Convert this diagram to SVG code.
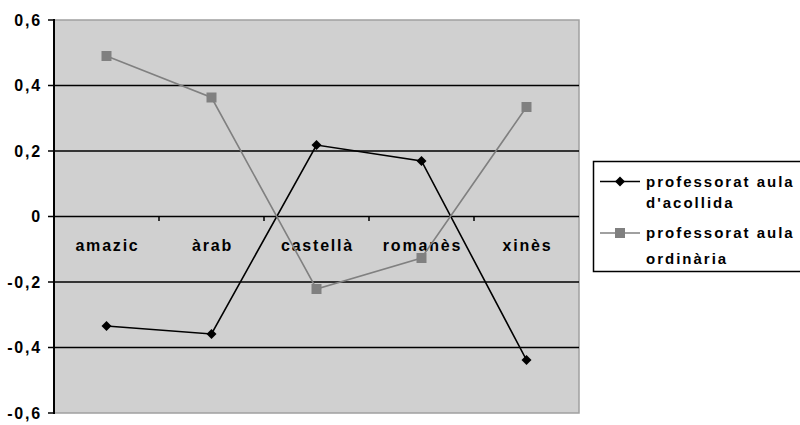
<svg xmlns="http://www.w3.org/2000/svg" width="800" height="425" viewBox="0 0 800 425">
  <style>
    .lbl { font-family: "Liberation Sans", Arial, sans-serif; font-weight: bold; font-size: 16px; letter-spacing: 1.8px; fill: #000; }
    .leg { font-family: "Liberation Sans", Arial, sans-serif; font-weight: bold; font-size: 15px; letter-spacing: 2px; fill: #000; }
    .grid { stroke: #000; stroke-width: 1.5; }
    .s1 { fill: none; stroke: #000; stroke-width: 1.6; }
    .s2 { fill: none; stroke: #808080; stroke-width: 1.6; }
  </style>
  <defs>
    <path id="dia" d="M0,-5 L5,0 L0,5 L-5,0 Z" fill="#000"/>
    <rect id="sq" x="-5" y="-5" width="10" height="10" fill="#808080"/>
  </defs>
  <rect width="800" height="425" fill="#fff"/>
  <g id="plot">
    <rect x="54" y="20" width="525" height="393" fill="#D0D0D0" stroke="#A0A0A0" stroke-width="1.5"/>
    <line class="grid" x1="54" y1="85.5" x2="579" y2="85.5"/>
    <line class="grid" x1="54" y1="151" x2="579" y2="151"/>
    <line class="grid" x1="54" y1="282" x2="579" y2="282"/>
    <line class="grid" x1="54" y1="347.5" x2="579" y2="347.5"/>
    <line class="grid" x1="54" y1="216.5" x2="579" y2="216.5"/>
    <g stroke="#000" stroke-width="1.5">
      <line x1="159" y1="216.5" x2="159" y2="221"/>
      <line x1="264" y1="216.5" x2="264" y2="221"/>
      <line x1="369" y1="216.5" x2="369" y2="221"/>
      <line x1="474" y1="216.5" x2="474" y2="221"/>
    </g>
    <line x1="54" y1="19" x2="54" y2="414" stroke="#000" stroke-width="2"/>
    <g stroke="#000" stroke-width="1.5">
      <line x1="48" y1="20" x2="54" y2="20"/>
      <line x1="48" y1="85.5" x2="54" y2="85.5"/>
      <line x1="48" y1="151" x2="54" y2="151"/>
      <line x1="48" y1="216.5" x2="54" y2="216.5"/>
      <line x1="48" y1="282" x2="54" y2="282"/>
      <line x1="48" y1="347.5" x2="54" y2="347.5"/>
      <line x1="48" y1="413" x2="54" y2="413"/>
    </g>
  </g>
  <g id="yaxis-labels" text-anchor="end">
    <text class="lbl" x="42" y="26">0,6</text>
    <text class="lbl" x="42" y="91">0,4</text>
    <text class="lbl" x="42" y="157">0,2</text>
    <text class="lbl" x="42" y="222">0</text>
    <text class="lbl" x="42" y="288">-0,2</text>
    <text class="lbl" x="42" y="353">-0,4</text>
    <text class="lbl" x="42" y="419">-0,6</text>
  </g>
  <g id="xaxis-labels" text-anchor="middle">
    <text class="lbl" x="107.5" y="251">amazic</text>
    <text class="lbl" x="212.5" y="251">àrab</text>
    <text class="lbl" x="317.5" y="251">castellà</text>
    <text class="lbl" x="422.5" y="251">romanès</text>
    <text class="lbl" x="527.5" y="251">xinès</text>
  </g>
  <g id="connectors">
    <polyline id="series-acollida" class="s1" points="106.5,326 211.5,334 316.5,145 421.5,161 526.5,360"/>
    <polyline id="series-ordinaria" class="s2" points="106.5,56 211.5,97.5 316.5,289 421.5,258 526.5,107"/>
  </g>
  <g id="markers-acollida">
    <use href="#dia" x="106.5" y="326"/>
    <use href="#dia" x="211.5" y="334"/>
    <use href="#dia" x="316.5" y="145"/>
    <use href="#dia" x="421.5" y="161"/>
    <use href="#dia" x="526.5" y="360"/>
  </g>
  <g id="markers-ordinaria">
    <use href="#sq" x="106.5" y="56"/>
    <use href="#sq" x="211.5" y="97.5"/>
    <use href="#sq" x="316.5" y="289"/>
    <use href="#sq" x="421.5" y="258"/>
    <use href="#sq" x="526.5" y="107"/>
  </g>
  <g id="legend">
    <rect x="593.5" y="161.5" width="220" height="110" fill="#fff" stroke="#000" stroke-width="1.5"/>
    <line class="s1" x1="600" y1="181.5" x2="640" y2="181.5"/>
    <use href="#dia" x="620" y="181.5"/>
    <text class="leg" x="646" y="187">professorat aula</text>
    <text class="leg" x="646" y="208">d'acollida</text>
    <line class="s2" x1="600" y1="233" x2="640" y2="233"/>
    <use href="#sq" x="620" y="233"/>
    <text class="leg" x="646" y="238">professorat aula</text>
    <text class="leg" x="646" y="264">ordinària</text>
  </g>
</svg>
